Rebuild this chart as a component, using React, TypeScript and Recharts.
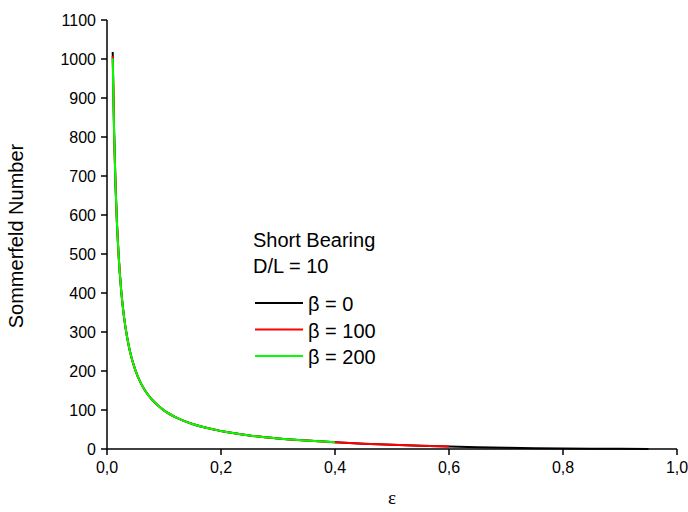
import { LineChart, Line, XAxis, YAxis } from "recharts";

// eccentricity values (ε) and Sommerfeld numbers
const EPS_BETA0 = [0.01, 0.0125, 0.015, 0.0175, 0.02, 0.025, 0.03, 0.035, 0.04, 0.05, 0.06, 0.07, 0.08, 0.09, 0.1, 0.12, 0.15, 0.2, 0.25, 0.3, 0.35, 0.4, 0.45, 0.5, 0.55, 0.6, 0.65, 0.7, 0.75, 0.8, 0.85, 0.9, 0.95];
const S_BETA0 = [1018, 810, 675, 578, 506, 405, 337, 289, 252, 201, 167, 143, 125, 111, 99, 81.7, 64.1, 46.1, 34.9, 27.2, 21.5, 17.0, 13.5, 10.6, 8.2, 6.25, 4.6, 3.3, 2.2, 1.39, 0.76, 0.33, 0.08];

const EPS_BETA100 = [0.01, 0.0125, 0.015, 0.0175, 0.02, 0.025, 0.03, 0.035, 0.04, 0.05, 0.06, 0.07, 0.08, 0.09, 0.1, 0.12, 0.15, 0.2, 0.25, 0.3, 0.35, 0.4, 0.45, 0.5, 0.55, 0.6];
const S_BETA100 = [1008, 808, 674, 577, 506, 405, 337, 289, 252, 201, 167, 143, 125, 111, 99, 81.7, 64.1, 46.1, 34.9, 27.2, 21.5, 17.0, 13.5, 10.6, 8.2, 6.25];

const EPS_BETA200 = [0.01, 0.0125, 0.015, 0.0175, 0.02, 0.025, 0.03, 0.035, 0.04, 0.05, 0.06, 0.07, 0.08, 0.09, 0.1, 0.12, 0.15, 0.2, 0.25, 0.3, 0.35, 0.4];
const S_BETA200 = [1002, 806, 673, 577, 505, 405, 337, 289, 252, 201, 167, 143, 125, 111, 99, 81.7, 64.1, 46.1, 34.9, 27.2, 21.5, 17.0];

const X_TICKS = [0, 0.2, 0.4, 0.6, 0.8, 1.0];
const Y_TICKS = [0, 100, 200, 300, 400, 500, 600, 700, 800, 900, 1000, 1100];

const SERIES = [
  { name: "β = 0", color: "#000000", eps: EPS_BETA0, s: S_BETA0 },
  { name: "β = 100", color: "#ff0000", eps: EPS_BETA100, s: S_BETA100 },
  { name: "β = 200", color: "#00ff00", eps: EPS_BETA200, s: S_BETA200 },
];

const FONT = "'Liberation Sans', Arial, sans-serif";

const toRows = (eps: number[], s: number[]) => eps.map((e, i) => ({ eps: e, s: s[i] }));

// legend block with the caption, laid over the plot
function BearingLegend() {
  return (
    <svg width={200} height={150} style={{ fontFamily: FONT, display: "block", position: "absolute", left: 240, top: 220 }}>
      <text x={13} y={27} fontSize={20} fill="#000">Short Bearing</text>
      <text x={13} y={53} fontSize={20} fill="#000">D/L = 10</text>
      {SERIES.map((s, i) => {
        const y = 83 + i * 26.5;
        return (
          <g key={s.name}>
            <line x1={15} x2={63} y1={y} y2={y} stroke={s.color} strokeWidth={2} />
            <text x={68} y={y + 8} fontSize={20} fill="#000">{s.name}</text>
          </g>
        );
      })}
    </svg>
  );
}

const YLabel = () => (
  <text x={18} y={236} transform="rotate(-90, 18, 236)" textAnchor="middle" dominantBaseline="middle" fontSize={20} fontFamily={FONT} fill="#000">
    Sommerfeld Number
  </text>
);

const XLabel = () => (
  <text x={392} y={500} textAnchor="middle" dominantBaseline="middle" fontSize={19} fontFamily="'Liberation Serif', serif" fill="#000">
    ε
  </text>
);

export default function App() {
  return (
    <div style={{ position: "absolute", left: 0, top: 0, width: 688, height: 512, background: "#fff" }}>
      <LineChart width={688} height={512} margin={{ top: 20, right: 11, left: 0, bottom: 0 }}>
        <XAxis
          dataKey="eps"
          type="number"
          domain={[0, 1]}
          ticks={X_TICKS}
          tickFormatter={(v: number) => v.toFixed(1).replace(".", ",")}
          height={63}
          stroke="#000"
          strokeWidth={1.5}
          tickSize={6}
          tickMargin={7}
          tick={{ fill: "#000", fontSize: 16, fontFamily: FONT }}
          allowDuplicatedCategory={false}
          label={<XLabel />}
        />
        <YAxis
          type="number"
          domain={[0, 1100]}
          ticks={Y_TICKS}
          width={107}
          stroke="#000"
          strokeWidth={1.5}
          tickSize={6}
          tickMargin={5}
          tick={{ fill: "#000", fontSize: 16, fontFamily: FONT }}
          label={<YLabel />}
        />
        {SERIES.map((s) => (
          <Line
            key={s.name}
            data={toRows(s.eps, s.s)}
            dataKey="s"
            name={s.name}
            stroke={s.color}
            strokeWidth={2}
            dot={false}
            type="monotone"
            isAnimationActive={false}
          />
        ))}
      </LineChart>
      <BearingLegend />
    </div>
  );
}
